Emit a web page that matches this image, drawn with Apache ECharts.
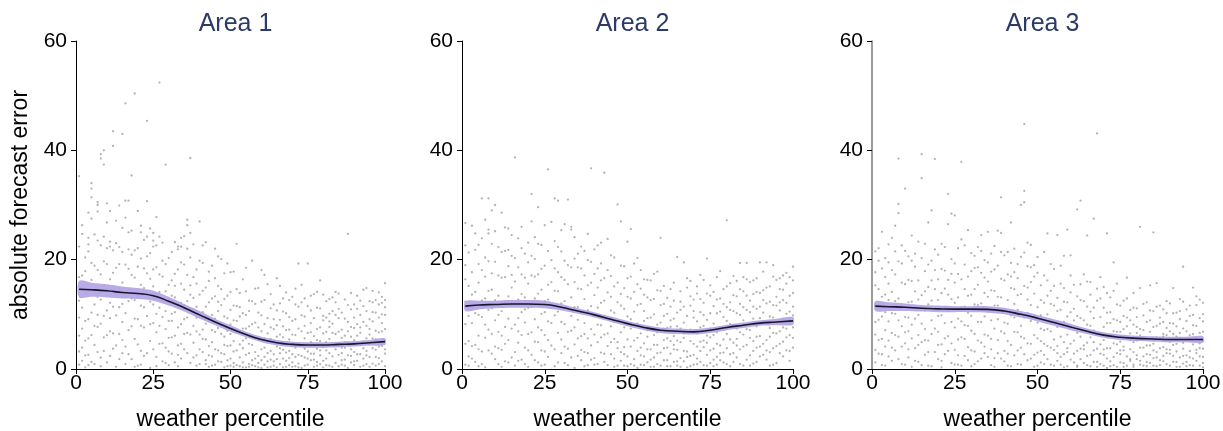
<!DOCTYPE html>
<html><head><meta charset="utf-8">
<script src="https://cdn.jsdelivr.net/npm/echarts@6/dist/echarts.min.js"></script>
<style>html,body{margin:0;padding:0;background:#fff}#c{width:1223px;height:431px}</style>
</head><body><div id="c"></div>
<script>
const panelTitles = ['Area 1', 'Area 2', 'Area 3'];
const xAxisTitle = 'weather percentile';
const yAxisTitle = 'absolute forecast error';

// scatter: [percentile, [errors...]]
const area1Pts = [
[1,[35.3,3.2,12.5,0.8,9.4]],[2,[26.3,17.1,7.4,1.5]],[3,[13.9,5.2,20.4,0.3]],[4,[28.6,24,22.8,21.5,9.1,2.6]],
[5,[27.5,34,33,31.4,16.3,6.2]],[6,[11.8,4.4,18.9,0.9]],[7,[30.5,30,28.8,23.5,13.2,7.7]],[8,[39.3,38.5,22.6,8.3,2.1]],
[9,[40,37.4,15.4,5.8,19.7]],[10,[30.3,26.8,10.7,1.2,14.6]],[11,[28.9,23.3,22.4,6.9,12.1]],[12,[43.5,40.8,17.6,3.7]],
[13,[23,9.8,0.4,13.7]],[14,[29.9,19.2,6.4,11.3]],[15,[43,21.4,8.6,2.9,15.8]],[16,[48.6,30.8,27.7,10.2,4.1]],
[17,[30.8,25,18.3,7.1]],[18,[35.4,12.9,1.8,20.9]],[19,[50.4,16.7,9.2,5.5]],[20,[28.9,22.1,13.4,0.6]],
[21,[26.2,25,11.6,7.9,3.3]],[22,[18.4,14.8,2.4]],[23,[24.2,45.4,30.7,9.7,17.5]],[24,[21.2,12.3,5.1,0.2]],
[25,[24.9,23.5,22.4,15.1,8.4]],[26,[27.8,13.8,6.7,2.2,18.6]],[27,[24.2,52.4,11.2,4.6]],[28,[16.9,9.5,1.4,19.8]],
[29,[37.4,14.2,7.3,3.9]],[30,[12.7,20.3,5.7,0.7]],[31,[16.2,10.1,2.8,8.8]],[32,[23.2,13.1,6.1,17.4]],
[33,[22.4,21.9,11.9,4.3,0.5]],[34,[24,22.4,15.6,8.2,1.9]],[35,[14.5,9.1,3.6,19.1]],[36,[27.3,26.3,12.4,6.6,22]],
[37,[38.6,24.9,10.9,1.1,15.3]],[38,[16.8,7.9,4.8,13]],[39,[11.4,2.5,18.2,9.4]],[40,[27,13.6,6.3,0.9]],
[41,[19.4,10.4,3.1,7.2]],[42,[23.2,14.9,5.4,1.6]],[43,[12.2,8.7,0.4,16.1]],[44,[9.9,4.9,18.9,2.3]],
[45,[22,13.3,6.8,0.8]],[46,[10.6,3.4,15.2,7.5]],[47,[20.1,8.1,1.3,11.7]],[48,[5.9,12.8,2.7,0.3]],
[49,[19.3,9.3,4.2,7]],[50,[14.1,6.4,1.9,0.6,10.8]],[51,[17.8,8.9,3.2,5.1]],[52,[22.9,11.5,0.7,6.7]],
[53,[4.5,13.9,2.1,9.6]],[54,[16.4,7.4,1.2,3.8]],[55,[9.9,0.3,5.6,18.5]],[56,[12.5,2.9,7.8,0.9]],
[57,[6.1,19.8,1.6,4.4]],[58,[14.7,3.1,0.5,8.5]],[59,[10.3,5.3,1.1,2.4]],[60,[18.1,6.9,0.2,3.6]],
[61,[8.2,2.2,12.6,0.8]],[62,[4.9,15.5,1.4,6.5]],[63,[11.1,3.3,0.4,7.6]],[64,[2.7,9.1,5.2,0.6]],
[65,[16.6,4.1,1.8,8]],[66,[6.3,0.9,12,2.9]],[67,[3.5,10.5,0.3,5.8]],[68,[14,7.1,1.5,3]],
[69,[5.4,2,9.5,0.7]],[70,[8.8,1.2,4.6,13.2]],[71,[3.9,11.8,0.5,6.2]],[72,[19.3,7.4,2.6,1]],
[73,[9.8,4.3,0.2,15.4]],[74,[5.6,2.1,12.9,7.9]],[75,[19.3,3.2,0.8,6.6]],[76,[10.7,1.6,4.9,8.4]],
[77,[2.8,13.7,0.4,6]],[78,[7.3,3.7,11.2,1.3]],[79,[16.2,5.1,0.9,2.5]],[80,[8.9,4,9.7,0.3]],
[81,[1.9,6.8,12.4,3.4]],[82,[10.1,0.6,5.5,7.7]],[83,[4.7,2.3,13.1,8.3]],[84,[14.1,6.4,1.1,3.6]],
[85,[9.3,0.5,4.2,11]],[86,[5.7,2.9,7.2,0.8]],[87,[12.7,3.9,1.7,6.1]],[88,[24.7,8.6,4.8,0.2]],
[89,[10.9,2.4,5.9,1.2]],[90,[7.5,0.7,11.8,3.1]],[91,[4.4,8.2,1.5,13.4]],[92,[6.6,2.7,9.9,0.4]],
[93,[11.5,5,1.9,3.8]],[94,[3.3,7.9,14.8,0.9]],[95,[9.1,4.5,2.2,6.3]],[96,[12.2,1,5.6,8.7]],
[97,[7,3.5,0.6,10.3]],[98,[14,9.4,4.1,2]],[99,[13.2,6.9,1.4,10]],[100,[15.7,12.6,9.9,5.2,2.8,0.5]]
];
const area1More = [
[1,[6.1,16.8,22.4]],[2,[11.2,3.9,24.7]],[3,[8.8,17.9,2.5]],[4,[14.4,5.6,0.7]],[5,[10.3,19.4,1.3]],[6,[24.6,7.9,14.2]],
[7,[3.1,18.1,9.9]],[8,[12.7,0.5,17.3]],[9,[24.2,9.7,3.3]],[10,[19.2,6.2,22.1]],[11,[16.4,2.4,9.3]],[12,[11.4,21.7,6.5]],
[13,[18.5,4.3,27.1]],[14,[22.3,14.6,1.8]],[15,[11.9,25.8,5.3]],[16,[19.1,13.2,0.9]],[17,[12.4,2.7,21.9]],[18,[17.2,7.8,25.3]],
[19,[21.7,12.6,0.4]],[20,[9.1,18.7,4.5]],[21,[15.4,20.2,0.8]],[22,[7.6,23.6,11.3]],[23,[13.6,2.9,20.6]],[24,[16.5,8.2,25.7]],
[25,[11.8,3.6,18.2]],[26,[22.6,10.1,0.5]],[27,[17.3,7.9,14.1]],[28,[12.6,4.7,23.1]],[29,[19.2,10.6,1.1]],[30,[15.4,8.8,3.2]],
[31,[21.4,13.4,5.8]],[32,[10.4,1.2,15.2]],[33,[18.2,7.6,2.6]],[34,[12.1,4.6,19.5]],[35,[24.3,11.7,6.4]],[36,[17.2,9.4,2.9]],
[37,[13.6,6.3,20.4]],[38,[10.9,2.1,22.8]],[39,[15.6,6.9,0.6]],[40,[19.8,9.9,3.6]],[41,[14.3,5.5,22.6]],[42,[11.4,8.3,0.9]],
[43,[17.8,4.2,2.5]],[44,[12.9,7.1,0.6]],[45,[16.6,3.6,9.2]],[46,[20.6,12.3,1.4]],[47,[6.4,2.9,14.6]],[48,[17.5,9.6,4.4]],
[49,[13.4,1.6,0.5]],[50,[17.7,4.3,8.1]],[51,[11.6,1.1,0.4]],[52,[14.6,3.4,8.8]],[53,[6.8,0.5,11.3]],[54,[10.2,5.2,0.3]],
[55,[14.2,2.6,7.4]],[56,[4.6,10.6,0.4]],[57,[8.2,12.4,0.7]],[58,[11.9,5.7,1.9]],[59,[7.6,14.8,0.3]],[60,[9.8,1.6,12.3]],
[61,[5.6,17.2,3.9]],[62,[9.3,2.9,0.3]],[63,[13.7,5.5,1.7]],[64,[7.3,11.8,1.4]],[65,[5.9,0.3,10.7]],[66,[9,3.8,15.2]],
[67,[7.8,12.9,1.9]],[68,[10.2,4.7,0.4]],[69,[12.6,3.3,7.2]],[70,[6.3,0.4,2.7]],[71,[9.1,2.2,14.7]],[72,[11.4,4.4,0.3]],
[73,[6.9,2.4,12.2]],[74,[9.6,3.7,0.6]],[75,[11.5,4.6,1.9]],[76,[6.7,2.8,13.4]],[77,[9.3,4.3,1.7]],[78,[5.3,0.6,14.1]],
[79,[11.1,7.6,3.4]],[80,[6.5,1.5,13.6]],[81,[9.4,4.9,0.7]],[82,[12.8,2.9,8.7]],[83,[6.6,0.4,10.6]],[84,[9.9,4.7,12.2]],
[85,[6.8,2.6,13.8]],[86,[10.3,3.9,1.6]],[87,[9.2,0.6,4.9]],[88,[11.7,6.9,2.5]],[89,[7.7,3.6,13.9]],[90,[9.4,5.3,1.4]],
[91,[11,6.1,2.7]],[92,[12.5,4.4,7.6]],[93,[8.6,0.6,14.5]],[94,[10.6,5.6,2.5]],[95,[12.4,7.3,0.4]],[96,[10.4,3.8,14.3]],
[97,[12.6,5.4,2.2]],[98,[6.7,11.8,0.9]],[99,[8.4,4.2,12.1]],[100,[7.3,3.6,11.3]]
];
const area2Pts = [
[1,[26.7,4.6,12.3,19,0.8]],[2,[9.7,15.2,2.3]],[3,[26.2,8.4,1.9,13.6]],[4,[21.8,4.4,10.2]],
[5,[15.8,6.1,0.5,22.7]],[6,[31.2,18.1,9.5,3.2]],[7,[20.4,12.9,5.7,0.3]],[8,[31.2,25.5,24.8,14.3,7.2]],
[9,[29,11.1,2.8,17.5]],[10,[30,8.9,19.6,4.1]],[11,[13.4,0.9,22.3,6.8]],[12,[28.6,16.7,10.6,3.5]],
[13,[21.6,7.7,1.4,12.1]],[14,[18.8,5.3,25.7,9.2]],[15,[14.9,2.1,20.7,11.8]],[16,[38.7,8.1,16,0.6]],
[17,[23.9,12.7,4.8,6.9]],[18,[17.3,10.4,1.7,26]],[19,[13.1,3.9,21.1,8.5]],[20,[19.5,6.4,15.6,0.4]],
[21,[32,27,11.4,2.6]],[22,[16.9,9.1,24.1,5]],[23,[29.6,13.8,1.2,7.6]],[24,[22.7,18.3,3.4,10.1]],
[25,[12.4,26.3,0.8,6.2]],[26,[36.5,15.4,8.7,2.2]],[27,[19.9,11.6,4.3]],[28,[31.2,23.4,9.8,0.5]],
[29,[30.8,14.2,6.6,17.7]],[30,[12,21.5,2.9,5.4]],[31,[26.5,16.3,8.2,1.1]],[32,[31,10.9,19,3.7]],
[33,[26,25.5,13.1,7]],[34,[20.2,4.5,15.9,0.2]],[35,[11.3,18.6,2.4,9]],[36,[14.6,22.4,6,1.6]],
[37,[8.4,17.1,3.1,12.8]],[38,[24.7,10.7,0.7,5.6]],[39,[36.7,15.8,7.3,19.6]],[40,[13.5,2,21.9,9.9]],
[41,[18.4,4.9,11.2,0.9]],[42,[8,16.2,23.1,3]],[43,[35.9,12.5,6.3,1.3]],[44,[23.8,14,9.4,4.2]],
[45,[17,2.7,7.8,20.8]],[46,[10.3,5.5,15.1,0.4]],[47,[30.1,12.2,3.8,8.6]],[48,[27,18.9,6.7,1.5]],
[49,[11,14.8,4,0.6]],[50,[23.3,9.6,2.3,16.6]],[51,[25.6,7.4,12.9,0.9]],[52,[19.3,5.2,1.8,10.5]],
[53,[15.5,8.3,3.3,0.2]],[54,[11.9,6.5,18.1,2.5]],[55,[13.6,4.7,0.7,8.8]],[56,[16.3,9.3,1.2,5.9]],
[57,[7.1,12.6,3.6,0.4]],[58,[17.4,10,2.1,6.2]],[59,[14.4,4.4,0.9,8.1]],[60,[24,11.7,3,6.8]],
[61,[9.7,1.6,15.2,5.3]],[62,[13,7.5,0.5,3.9]],[63,[8.9,2.8,11.4,5.1]],[64,[6,15.8,1.3,9.2]],
[65,[20.5,7.8,3.5,0.6]],[66,[12.3,4.9,10.8,2]],[67,[19.5,8.5,1.4,5.7]],[68,[14.9,3.2,6.9,0.3]],
[69,[11.6,7.2,2.4,16.1]],[70,[9.4,4.6,12.7,0.8]],[71,[6.5,13.8,1.9,8.7]],[72,[17.2,5,3.3,10.4]],
[73,[7.9,0.7,12.1,4]],[74,[20.2,9,2.6,6.1]],[75,[13.4,5.8,1.1,15.3]],[76,[8.3,3.7,11.5,0.5]],
[77,[16.8,6.7,2.2,10.2]],[78,[12.9,4.3,7.6,1.6]],[79,[9.5,14.6,3,5.4]],[80,[27.2,11.3,6.4,0.9]],
[81,[15.7,8.2,2.7,12.2]],[82,[10.6,4.8,17,1.3]],[83,[7.4,13.3,5.5,2.1]],[84,[19.4,9.9,3.6,11.9]],
[85,[14.2,6.3,0.6,8.9]],[86,[19.4,16.4,10.8,4.4]],[87,[12.5,7.1,2.5,15.9]],[88,[9.2,5.1,13.7,1]],
[89,[16.6,11,3.9,7.8]],[90,[13.9,6,19.5,2.3]],[91,[10.3,8.7,4.6,14.4]],[92,[19.5,12,5.3,1.7]],
[93,[15.1,7.5,3.1,9.6]],[94,[19,11.7,6.6,0.8]],[95,[13.2,16.3,4.2,8.4]],[96,[10.7,2.9,14.6,6.9]],
[97,[17.1,9.1,5,12.6]],[98,[12.1,3.4,15.6,7.4]],[99,[16.8,10.5,6.2,1.5]],[100,[18.7,13.9,9.8,5.7,11.4]]
];
const area2More = [
[1,[8.2,16.4,22.6]],[2,[5.1,21.3,0.6]],[3,[17.7,11.2,4.2]],[4,[14.1,24.8,1.3]],[5,[9.9,19.2,3.6]],[6,[12.5,0.9,23.9]],
[7,[16.9,8.1,27.3]],[8,[3.4,19.7,10.8]],[9,[22.9,6.4,14.5]],[10,[12.6,1.8,25.2]],[11,[17.1,9.9,3.8]],[12,[21.4,6.1,0.4]],
[13,[16.8,25.9,4.6]],[14,[13.3,1.2,21.8]],[15,[7.4,17.2,24.5]],[16,[11.9,20.3,3.1]],[17,[18.6,1.5,9.3]],[18,[22.1,13.7,6.2]],
[19,[16.7,10.9,0.9]],[20,[11.2,23.1,3.4]],[21,[17.1,6.7,20.7]],[22,[12.9,1.6,20.1]],[23,[17.3,4.9,22.9]],[24,[14.5,7.1,0.6]],
[25,[18.9,10.4,3.2]],[26,[21.6,5.3,12.7]],[27,[26.9,8.4,15.9]],[28,[14.3,3.6,18.4]],[29,[10.5,1.2,22.3]],[30,[16.8,8.6,25.4]],
[31,[12.4,4.1,19.8]],[32,[15.5,6.8,0.7]],[33,[18.6,9.7,2.1]],[34,[11.3,24.1,7.6]],[35,[14.7,5.6,21.1]],[36,[18.4,10.3,3.5]],
[37,[21.6,6.4,0.5]],[38,[15.3,19.9,2.9]],[39,[11.5,4.3,1.7]],[40,[17.4,6.3,0.8]],[41,[14.9,22.6,8.1]],[42,[12.1,5.8,19.3]],
[43,[9.7,16.6,2.8]],[44,[18.1,6.5,0.7]],[45,[13.2,10.7,4.9]],[46,[20.4,8.6,1.9]],[47,[15.8,4.9,0.6]],[48,[11.6,3.1,13.7]],
[49,[18.8,7.6,2.7]],[50,[13.2,5.4,0.5]],[51,[16.9,4.1,9.1]],[52,[14.1,7.9,0.6]],[53,[11.7,20.3,5.7]],[54,[14.7,3.9,0.8]],
[55,[16.4,10.6,2.3]],[56,[13.1,3.6,7.1]],[57,[16.2,9.4,1.7]],[58,[12.8,4.4,0.4]],[59,[17.8,6.7,2.9]],[60,[14.3,8.5,0.6]],
[61,[11.9,3.8,7.4]],[62,[10.1,5.6,1.6]],[63,[14.6,7.7,0.5]],[64,[12.5,3.6,4.4]],[65,[10.3,5.2,1.4]],[66,[14.2,7.4,0.4]],
[67,[11.4,3.3,6.5]],[68,[16.6,9.7,2.2]],[69,[13.3,5.1,0.5]],[70,[10.6,6.8,2.6]],[71,[15.1,4.1,0.9]],[72,[12.8,7.6,1.3]],
[73,[16.3,9.9,5.2]],[74,[13.8,4.8,0.6]],[75,[10.2,7.4,3.4]],[76,[14.1,6.2,1.7]],[77,[12.7,4.6,0.8]],[78,[17.9,10.5,2.9]],
[79,[11.9,7.2,1.2]],[80,[15.1,8.8,3.8]],[81,[10.8,5.4,0.5]],[82,[13.5,8,2.9]],[83,[16.1,10.2,4.3]],[84,[14.6,6.7,0.9]],
[85,[11.3,4.1,16.8]],[86,[13.4,7.3,1.7]],[87,[10.4,5.7,0.6]],[88,[16.2,11.4,3.3]],[89,[14.1,5.9,1.3]],[90,[11.4,9.3,4.1]],
[91,[17.8,12.6,2.6]],[92,[14.9,8.4,3.4]],[93,[12.3,5.9,0.6]],[94,[16.9,9.4,3.8]],[95,[11.6,6.5,1.1]],[96,[16.6,12.2,4.6]],
[97,[14.5,7.6,2.3]],[98,[10.1,5.8,17.6]],[99,[13.4,8.3,3.3]],[100,[16.2,7.6,3.9]]
];
const area3Pts = [
[1,[17.7,6.3,11.9,1.2,21.5]],[2,[22.1,2.8,9,14.6]],[3,[13.2,0.7,18.4,5.5]],[4,[16.8,4.1,10.4,20.3]],
[5,[8.7,19.5,2.3,12.6]],[6,[24,14.1,6.6,1.5]],[7,[26.2,10.1,3.4,17.3]],[8,[38.5,30.2,28.5,12.9,5.9]],
[9,[19.3,7.8,0.9,22.6]],[10,[33,15.5,4.7,9.5]],[11,[20.6,12.2,2.1,6.9]],[12,[16.1,8.1,0.4,24.4]],
[13,[11.4,18.7,3.8,14.2]],[14,[23.3,6.2,9.9,1.3]],[15,[39.3,34.9,13.5,4.9]],[16,[17.9,10.7,2.6,7.3]],
[17,[26.8,15,5.2,0.6]],[18,[29,19.8,8.9,12.5]],[19,[38.4,11.1,3.1,21.9]],[20,[16.4,6.8,1.8,9.7]],
[21,[22.9,13.9,4.5,0.3]],[22,[18,8.4,14.7,2.7]],[23,[32,26.5,10.6,6]],[24,[28.4,20.1,1.1,12.8]],
[25,[28.1,15.8,7.6,3.5]],[26,[17.4,9.2,0.8,13.1]],[27,[37.9,23.7,5.8,11.3]],[28,[19.1,14.6,2.4,8]],
[29,[25.4,10.3,4,16.9]],[30,[13.6,7,0.5,21.2]],[31,[18.5,11.8,3.2,6.4]],[32,[22.3,15.4,8.6,1.4]],
[33,[24.5,12,4.8,17.6]],[34,[9.6,19.9,2.9,13.9]],[35,[16,6.1,25.1,10.5]],[36,[21.1,14.4,3.6,0.7]],
[37,[11.6,18.2,7.4,2]],[38,[25.3,13.2,5.3,9.1]],[39,[31.4,24.9,16.5,1.9]],[40,[20.8,10.9,6.5,3.3]],
[41,[17.3,12.6,0.6,8.3]],[42,[26.8,14.8,4.4,19.4]],[43,[22,9.4,2.5,11.9]],[44,[16.6,6.7,13.5,0.9]],
[45,[30,20.5,7.9,3.9]],[46,[44.8,32.6,30.5,15.2,5.6]],[47,[18.8,10.2,1.6,12.7]],[48,[22.7,8.8,4.6,15.9]],
[49,[13.8,6.2,0.4,19]],[50,[17.6,11.3,3,8.5]],[51,[15.3,5.1,9.8,1.2]],[52,[21.4,12.1,7.1,2.6]],
[53,[24.8,10,4.2,16.2]],[54,[14.3,6.9,0.8,9]],[55,[18.3,3.5,11.6,5.4]],[56,[24.5,13,7.7,1.5]],
[57,[15.6,8.2,2.2,10.8]],[58,[20.7,4.9,12.3,0.3]],[59,[25.5,9.6,6.3,3.1]],[60,[14,7.5,1.7,17.1]],
[61,[11,5.2,2.8,8.9]],[62,[29.2,13.3,6.6,0.6]],[63,[30.8,9.3,3.7,15.5]],[64,[12.4,4.3,1.1,7.2]],
[65,[24.4,16,8.1,2.4]],[66,[10.5,5.8,0.5,13.6]],[67,[27.5,11.2,3.4,7]],[68,[43.1,14.7,6.4,1.3]],
[69,[9.5,4.5,0.9,12.9]],[70,[15,7.7,2.6,5.3]],[71,[24.8,10.3,3.8,0.2]],[72,[13.1,6.2,1.4,8.4]],
[73,[19.5,9.1,4.7,0.7]],[74,[11.8,2.9,6.8,15.6]],[75,[8.6,5,1.2,3.4]],[76,[12.5,7.3,0.4,4.1]],
[77,[16.7,9.4,2.3,5.9]],[78,[6.5,1.8,10.8,3.6]],[79,[13.9,4.9,0.8,8.1]],[80,[7.7,2.5,11.1,5.2]],
[81,[26,14.8,6.1,1.5]],[82,[9.8,3.9,0.6,7.1]],[83,[12.2,5.5,2.7,4.3]],[84,[8.9,1.1,6.8,15.3]],
[85,[25,10.6,4.6,2]],[86,[15.7,7.9,3.1,0.5]],[87,[9.4,5.7,1.6,11.6]],[88,[6.4,2.4,8.6,4]],
[89,[10.2,3.6,0.9,7.5]],[90,[12,6.9,2.8,5]],[91,[14.8,8.3,1.3,4.4]],[92,[10.3,5.9,0.4,3.2]],
[93,[9.1,2.1,6.6,12.8]],[94,[18.7,7.4,4.8,1]],[95,[10.9,5.3,2.5,8.8]],[96,[6.2,3.3,0.7,9.7]],
[97,[14.9,8,4.5,1.9]],[98,[11.7,5.6,2.9,13.3]],[99,[9.3,6.6,0.6,3.8]],[100,[12.1,10,8.7,5.1,2.2,0.3]]
];
const area3More = [
[1,[15.3,8.6,3.5]],[2,[19.8,11.7,5.3]],[3,[25.1,9.6,2.7]],[4,[13.6,7.1,0.6]],[5,[22.8,15.6,5.2]],[6,[18.1,10.2,3.9]],
[7,[12.4,6.2,21.5]],[8,[19.7,8.9,1.8]],[9,[15.8,11.6,4.1]],[10,[21.6,6.7,0.8]],[11,[16.3,9.4,3.6]],[12,[19.8,12.3,5.6]],
[13,[9.2,1.5,21.1]],[14,[16.2,12.7,4.4]],[15,[20.3,8.3,0.7]],[16,[14.2,5.3,22.9]],[17,[11.8,19.1,3.1]],[18,[16.2,6.4,0.5]],
[19,[14.6,7.4,18.1]],[20,[12.6,4.4,20.9]],[21,[18.3,9.8,1.5]],[22,[11.3,5.6,22.3]],[23,[16.3,13.6,3.3]],[24,[8.6,4.7,17.4]],
[25,[12.1,19.3,0.8]],[26,[22.1,5.4,2.5]],[27,[16.4,8.7,0.6]],[28,[11.4,5.5,22.6]],[29,[13.4,7.9,1.6]],[30,[17.9,9.7,3.4]],
[31,[14.6,20.7,0.9]],[32,[11.7,5.2,18.6]],[33,[8.6,1.9,21.6]],[34,[16.7,6.3,4.1]],[35,[13.2,2.2,19.5]],[36,[17.8,8.9,5.5]],
[37,[22.5,14.3,0.4]],[38,[18.9,2.9,11.6]],[39,[13.1,6.9,21.4]],[40,[16.2,1.4,8.5]],[41,[21.4,5.1,2.8]],[42,[9.8,0.5,16.9]],
[43,[17.7,14.6,6.8]],[44,[19.2,3.4,10.8]],[45,[13.7,5.9,0.8]],[46,[21.3,9.4,2.7]],[47,[14.9,4.7,23.1]],[48,[11.7,1.9,18.6]],
[49,[16.9,9.7,2.6]],[50,[20.5,5.6,0.6]],[51,[12.6,7.4,3.3]],[52,[17.1,4.6,0.9]],[53,[13.4,7.3,1.8]],[54,[11.9,3.9,19.2]],
[55,[15.2,8.5,0.6]],[56,[10.6,4.2,2.9]],[57,[18.9,5.9,0.8]],[58,[14.8,8.6,2.7]],[59,[12.2,3.8,0.5]],[60,[10.4,4.6,20.8]],
[61,[15.4,7.6,1.2]],[62,[9.7,3.3,0.4]],[63,[12.6,5.9,1.8]],[64,[17.3,8.9,3.6]],[65,[11.4,4.8,0.7]],[66,[15.9,7.9,2.6]],
[67,[9.3,4.9,1.3]],[68,[12.5,3.7,0.4]],[69,[16.8,6.5,2.8]],[70,[11.2,3.6,0.6]],[71,[8.4,1.9,13.9]],[72,[10.4,3.8,0.5]],
[73,[14.3,6.9,2.2]],[74,[8.9,4.5,0.4]],[75,[11.6,6.8,2.7]],[76,[9.7,3.4,1.1]],[77,[7.8,0.6,12.9]],[78,[8.9,5.3,1.5]],
[79,[11.2,3.1,0.4]],[80,[9.5,6.6,1.8]],[81,[7.3,3.9,0.8]],[82,[11.9,5.6,2.3]],[83,[8.6,1.3,0.5]],[84,[10.7,4.3,2.6]],
[85,[7.7,3.4,0.6]],[86,[11.4,5.8,2.1]],[87,[8.3,3.8,0.7]],[88,[10.9,5.9,1.4]],[89,[12.4,6.2,2.9]],[90,[8.4,3.5,0.6]],
[91,[10.2,6.4,2.4]],[92,[7.8,4.6,1.3]],[93,[10.6,5.6,0.4]],[94,[12.3,3.7,2.4]],[95,[6.9,1.3,0.5]],[96,[11.6,5.3,2.1]],
[97,[9.9,6.4,0.6]],[98,[7.9,3.5,1.5]],[99,[12.7,4.7,2.3]],[100,[6.8,3.7,1.1]]
];

// smoothed fit and confidence band
const fitX = [1,5,10,15,20,25,30,35,40,45,50,55,60,65,70,75,80,85,90,95,100];
const area1Fit = [14.6,14.5,14.3,14.0,13.8,13.4,12.4,11.2,9.9,8.6,7.4,6.3,5.4,4.8,4.5,4.4,4.4,4.5,4.6,4.8,5.0];
const area1Lo  = [13.1,13.2,13.1,12.9,12.8,12.5,11.6,10.5,9.2,8.0,6.8,5.8,4.9,4.3,4.0,3.9,3.9,4.0,4.1,4.3,4.4];
const area1Hi  = [16.1,15.8,15.5,15.1,14.8,14.3,13.2,11.9,10.6,9.2,8.0,6.8,5.9,5.3,5.0,4.9,4.9,5.0,5.1,5.3,5.6];
const area2Fit = [11.5,11.7,11.8,11.9,11.9,11.8,11.3,10.6,9.9,9.1,8.3,7.6,7.1,6.9,6.8,7.1,7.6,8.0,8.4,8.6,8.8];
const area2Lo  = [10.6,10.9,11.1,11.2,11.2,11.1,10.7,10.1,9.4,8.6,7.8,7.1,6.6,6.4,6.3,6.6,7.1,7.5,7.9,8.0,8.1];
const area2Hi  = [12.4,12.5,12.5,12.6,12.6,12.5,11.9,11.1,10.4,9.6,8.8,8.1,7.6,7.4,7.3,7.6,8.1,8.5,8.9,9.2,9.5];
const area3Fit = [11.5,11.4,11.3,11.1,11.0,10.95,10.95,10.9,10.6,10.0,9.3,8.5,7.7,6.9,6.2,5.8,5.6,5.5,5.4,5.4,5.4];
const area3Lo  = [10.6,10.6,10.6,10.5,10.4,10.4,10.4,10.3,10.0,9.4,8.7,7.9,7.1,6.4,5.7,5.3,5.1,5.0,4.9,4.9,4.8];
const area3Hi  = [12.4,12.2,12.0,11.7,11.6,11.5,11.5,11.5,11.2,10.6,9.9,9.1,8.3,7.4,6.7,6.3,6.1,6.0,5.9,5.9,6.0];

const xMin = 0, xMax = 100, xStep = 25;
const yMin = 0, yMax = 60, yStep = 20;

const panels = [
  {pts: [area1Pts, area1More], fit: area1Fit, lo: area1Lo, hi: area1Hi, left: 76, width: 309, yLine: '#000'},
  {pts: [area2Pts, area2More], fit: area2Fit, lo: area2Lo, hi: area2Hi, left: 462, width: 331, yLine: '#000'},
  {pts: [area3Pts, area3More], fit: area3Fit, lo: area3Lo, hi: area3Hi, left: 872, width: 331, yLine: '#7a7a7a'}
];

const FONT = 'Liberation Sans, Arial, sans-serif';
const grids = [], xAxes = [], yAxes = [], series = [], titles = [];
panels.forEach((p, i) => {
  grids.push({left: p.left, width: p.width, top: 41, height: 328, containLabel: false, outerBoundsMode: 'none'});
  titles.push({text: panelTitles[i], left: p.left + p.width / 2, top: 7, textAlign: 'center',
    textStyle: {color: '#2b3a67', fontSize: 25, fontWeight: 'normal', fontFamily: FONT}});
  xAxes.push({type: 'value', gridIndex: i, min: xMin, max: xMax, interval: xStep,
    name: xAxisTitle, nameLocation: 'middle', nameGap: 39,
    nameTextStyle: {color: '#000', fontSize: 23, fontFamily: FONT},
    axisLine: {show: true, lineStyle: {color: '#000', width: 1}},
    axisTick: {show: true, inside: false, length: 5, lineStyle: {color: '#000'}},
    axisLabel: {color: '#000', fontSize: 21, fontFamily: FONT, margin: 4},
    splitLine: {show: false}});
  yAxes.push({type: 'value', gridIndex: i, min: yMin, max: yMax, interval: yStep,
    name: i === 0 ? yAxisTitle : '', nameLocation: 'middle', nameGap: 44,
    nameTextStyle: {color: '#000', fontSize: 23, fontFamily: FONT},
    axisLine: {show: true, lineStyle: {color: p.yLine, width: i === 2 ? 1.5 : 1}},
    axisTick: {show: true, inside: false, length: 5, lineStyle: {color: '#000'}},
    axisLabel: {color: '#000', fontSize: 21, fontFamily: FONT, margin: 9},
    splitLine: {show: false}});
  const scatterData = [];
  p.pts.forEach(list => list.forEach(([x, ys]) => ys.forEach(y => scatterData.push([x, y]))));
  series.push({type: 'scatter', xAxisIndex: i, yAxisIndex: i, data: scatterData,
    symbol: 'circle', symbolSize: 2.3, itemStyle: {color: '#a0a0a0'}, silent: true, z: 1});
  series.push({type: 'custom', xAxisIndex: i, yAxisIndex: i, data: [[fitX[0], p.lo[0]]], silent: true, z: 3,
    renderItem: (params, api) => {
      const up = fitX.map((x, k) => api.coord([x, p.hi[k]]));
      const dn = fitX.map((x, k) => api.coord([x, p.lo[k]])).reverse();
      return {type: 'polygon', shape: {points: up.concat(dn), smooth: 0.3},
        style: {fill: '#b1a2e6', opacity: 0.9}};
    }});
  series.push({type: 'line', xAxisIndex: i, yAxisIndex: i, smooth: true,
    data: fitX.map((x, k) => [x, p.fit[k]]), symbol: 'none',
    lineStyle: {color: '#17162c', width: 1.6}, silent: true, z: 4});
});

const chart = echarts.init(document.getElementById('c'), null, {renderer: 'canvas'});
chart.setOption({animation: false, backgroundColor: '#fff', title: titles,
  grid: grids, xAxis: xAxes, yAxis: yAxes, series: series});
</script></body></html>
